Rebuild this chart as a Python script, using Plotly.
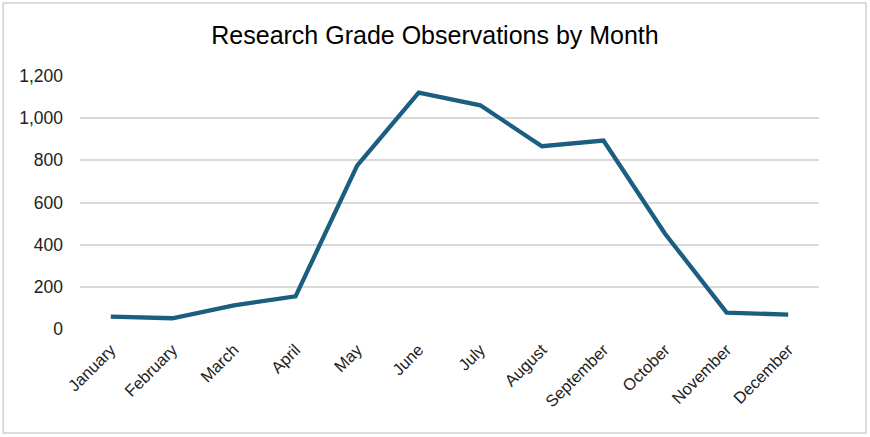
import plotly.graph_objects as go

# ============================================================
# Data
# ============================================================
months = ["January", "February", "March", "April", "May", "June",
          "July", "August", "September", "October", "November", "December"]
observations = [59, 51, 112, 155, 775, 1121, 1061, 867, 894, 452, 78, 68]
y_ticks = [0, 200, 400, 600, 800, 1000, 1200]
y_tick_labels = ["0", "200", "400", "600", "800", "1,000", "1,200"]

LINE_COLOR = "#1B5E80"
GRID_COLOR = "#D9D9D9"
FONT = "Liberation Sans"

fig = go.Figure()
fig.add_trace(
    go.Scatter(
        x=list(range(len(months))),
        y=observations,
        mode="lines",
        line=dict(color=LINE_COLOR, width=4.3),
        showlegend=False,
    )
)

fig.update_layout(
    width=870,
    height=437,
    margin=dict(l=80, r=51, t=76, b=108),
    paper_bgcolor="white",
    plot_bgcolor="white",
    title=dict(
        text="Research Grade Observations by Month",
        x=0.5,
        xanchor="center",
        y=0.92,
        yanchor="middle",
        font=dict(family=FONT, size=25, color="#000000"),
    ),
    font=dict(family=FONT, size=16, color="#222222"),
)

fig.update_xaxes(
    range=[-0.5, len(months) - 0.5],
    tickmode="array",
    tickvals=list(range(len(months))),
    ticktext=months,
    tickangle=-45,
    showgrid=False,
    zeroline=False,
    showline=False,
    ticks="",
    ticklabelstandoff=7,
    tickfont=dict(family=FONT, size=16.5, color="#222222"),
)

fig.update_yaxes(
    range=[0, 1200],
    tickmode="array",
    tickvals=y_ticks,
    ticktext=y_tick_labels,
    showgrid=True,
    gridcolor=GRID_COLOR,
    gridwidth=1.5,
    zeroline=False,
    showline=False,
    ticks="",
    ticklabelstandoff=16,
    tickfont=dict(family=FONT, size=17.5, color="#222222"),
)

# outer chart border
fig.add_shape(
    type="rect",
    xref="paper", yref="paper",
    x0=-0.104, x1=1.0636, y0=-0.411, y1=1.2885,
    line=dict(color="#D0D0D0", width=1.5),
    fillcolor="rgba(0,0,0,0)",
    layer="below",
)

# drop the page's default body margin so the chart sits at the window origin
fig.write_html(
    "out.html",
    config={"displayModeBar": False},
    post_script="document.body.style.margin='0px';",
)
